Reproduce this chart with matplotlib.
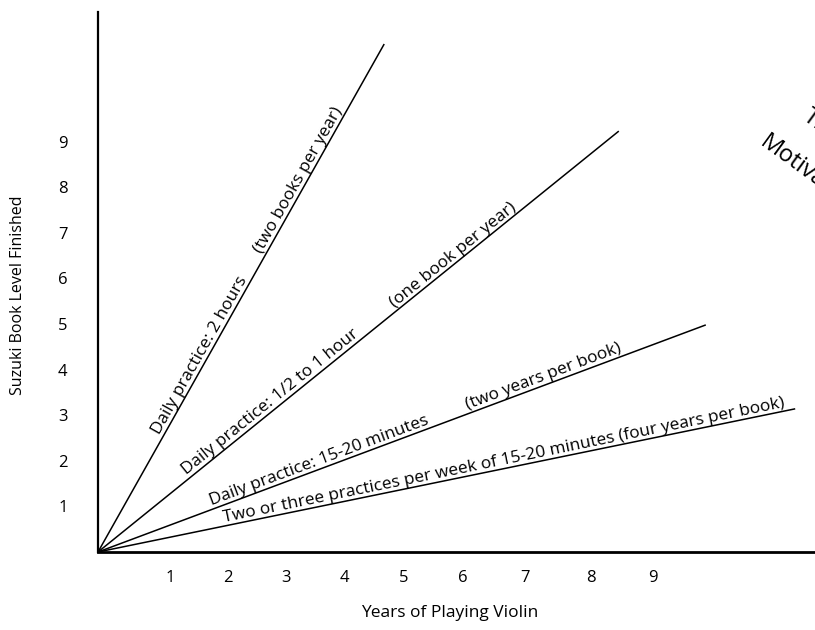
import numpy as np
import matplotlib
matplotlib.use("Agg")
import matplotlib.pyplot as plt

# end points of each practice line (years, books)
line_end_x = [4.77, 8.68, 10.13, 11.62]
line_end_y = [11.14, 9.23, 4.98, 3.14]

# labels along each line: (line index, start x in years, text)
label_line = [0, 0, 1, 1, 2, 2, 3]
label_x = [1.08, 2.78, 1.52, 4.98, 1.92, 6.18, 2.12]
label_text = [
    "Daily practice: 2 hours",
    "(two books per year)",
    "Daily practice: 1/2 to 1 hour",
    "(one book per year)",
    "Daily practice: 15-20 minutes",
    "(two years per book)",
    "Two or three practices per week of 15-20 minutes (four years per book)",
]

x_tick_pos = [1.20, 2.17, 3.13, 4.10, 5.10, 6.08, 7.12, 8.22, 9.25]
x_tick_lab = ["1", "2", "3", "4", "5", "6", "7", "8", "9"]
y_tick_pos = [1, 2, 3, 4, 5, 6, 7, 8, 9]

plt.rcParams['font.family'] = ['Open Sans', 'DejaVu Sans']

fig = plt.figure(figsize=(8.15, 6.3), dpi=100)
ax = fig.add_axes([98 / 815, 78 / 630, 717 / 815, 540 / 630])
ax.set_xlim(0, 717 / 60)
ax.set_ylim(0, 540 / 45.6)

for ex, ey in zip(line_end_x, line_end_y):
    ax.plot([0, ex], [0, ey], color='black', linewidth=1.1, solid_capstyle='butt')

for li, lx, txt in zip(label_line, label_x, label_text):
    slope = line_end_y[li] / line_end_x[li]
    ang = np.degrees(np.arctan(slope))
    ax.text(lx, lx * slope, txt, rotation=ang, rotation_mode='anchor',
            transform_rotates_text=True, ha='left', va='bottom',
            fontsize=12.4, color='black')

for s in ['top', 'right']:
    ax.spines[s].set_visible(False)
ax.spines['left'].set_linewidth(1.6)
ax.spines['bottom'].set_linewidth(2.0)

ax.set_xticks(x_tick_pos)
ax.set_xticklabels(x_tick_lab, fontsize=12)
ax.set_yticks(y_tick_pos)
ax.set_yticklabels([str(v) for v in y_tick_pos], fontsize=12)
ax.tick_params(axis='x', length=0, pad=13)
ax.tick_params(axis='y', length=0, pad=22)

fig.text(18 / 815, 1 - 295 / 630, "Suzuki Book Level Finished", rotation=90,
         ha='center', va='center', fontsize=11.5)
fig.text(450 / 815, 1 - 613 / 630, "Years of Playing Violin",
         ha='center', va='center', fontsize=12.5)

# title of the neighbouring figure, cut off at the page edge
fig.text(805 / 815, 1 - 114 / 630, "The", rotation=-36, ha='left',
         va='center', fontsize=17, rotation_mode='anchor')
fig.text(762 / 815, 1 - 140 / 630, "Motivation", rotation=-36, ha='left',
         va='center', fontsize=17, rotation_mode='anchor')

fig.savefig("out.png", dpi=100)
